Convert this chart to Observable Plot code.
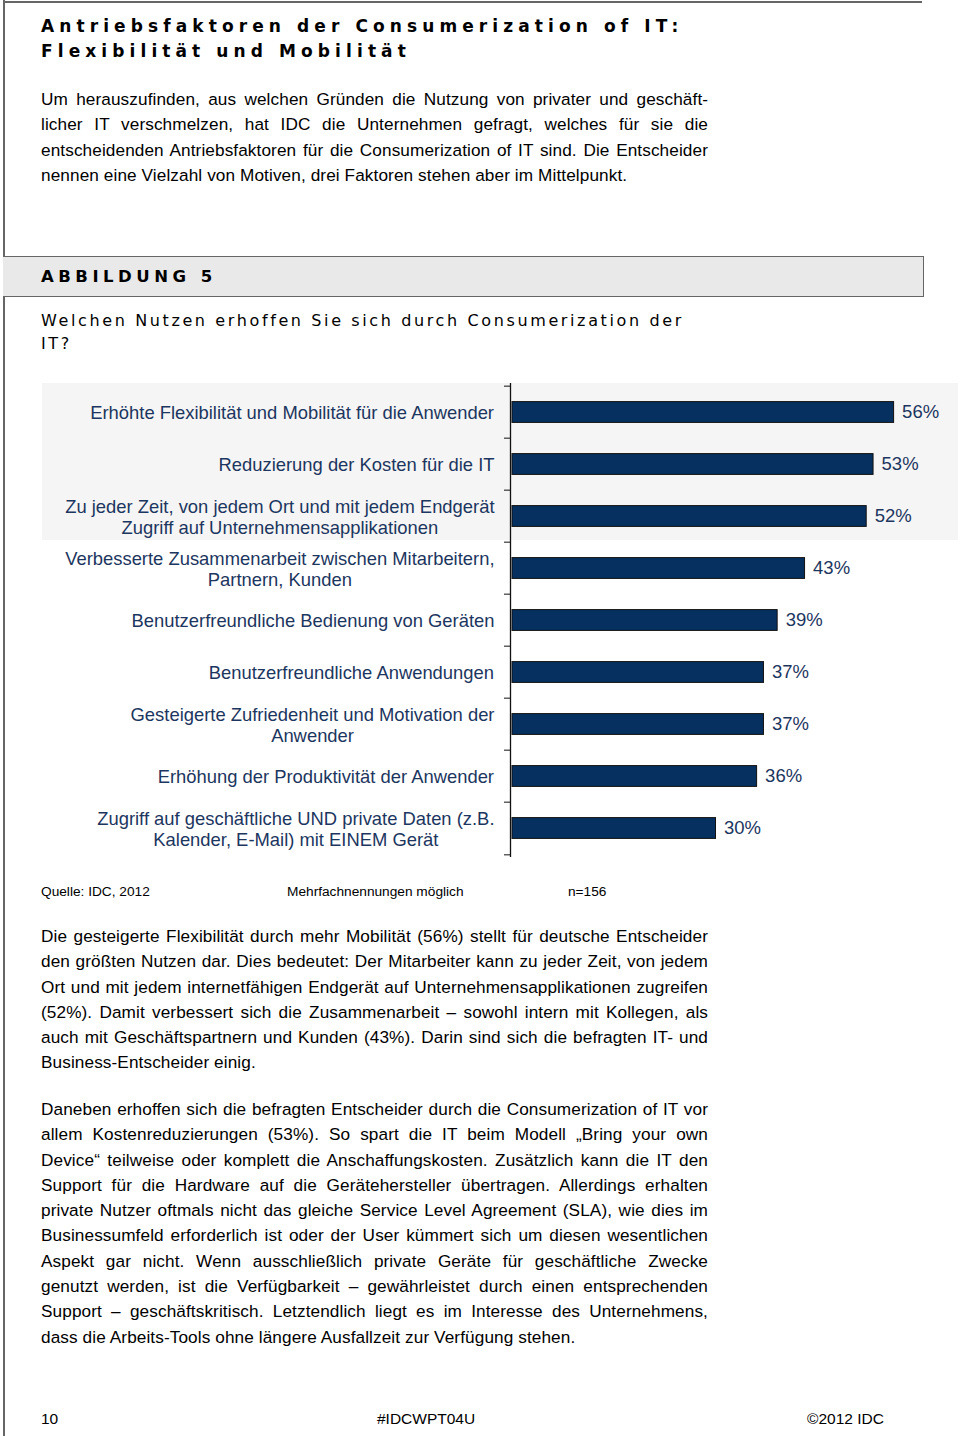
<!DOCTYPE html>
<html lang="de">
<head>
<meta charset="utf-8">
<script src="https://cdn.jsdelivr.net/npm/d3@7"></script>
<script src="https://cdn.jsdelivr.net/npm/@observablehq/plot@0.6"></script>
<style>
  html, body { margin: 0; padding: 0; background: #fff; }
  #page { position: relative; width: 960px; height: 1436px; overflow: hidden; font-family: "Liberation Sans", Arial, sans-serif; color: #000; }
  .abs { position: absolute; }
  .title { left: 41px; top: 14px; font-family: "DejaVu Sans", Verdana, sans-serif; font-weight: bold; font-size: 17px; line-height: 25px; letter-spacing: 5.1px; white-space: nowrap; }
  .para { left: 41px; width: 667px; font-size: 17.2px; line-height: 25.3px; letter-spacing: 0.1px; text-align: justify; hyphens: manual; }
  .fig { left: 3px; top: 256px; width: 920px; height: 39px; background: #e9e9e9; border: 1.5px solid #666; border-left: none; box-sizing: content-box; }
  .figlabel { left: 41px; top: 265px; font-family: "DejaVu Sans", Verdana, sans-serif; font-weight: bold; font-size: 16.5px; line-height: 24px; letter-spacing: 4.5px; }
  .sub { left: 41px; top: 309px; font-family: "DejaVu Sans", Verdana, sans-serif; font-size: 16px; line-height: 23px; letter-spacing: 2.62px; white-space: nowrap; }
  .hl { left: 42px; top: 383px; width: 916px; height: 157px; background: #f5f5f5; }
  #chart { left: 42px; top: 380px; }
  .note { top: 884px; font-size: 13.7px; line-height: 16px; }
  .foot { top: 1410px; font-size: 15.5px; line-height: 18px; }
</style>
</head>
<body>
<div id="page">
  <div class="abs" style="left:3px;top:0;width:1.5px;height:1436px;background:#666"></div>
  <div class="abs" style="left:3px;top:1px;width:919px;height:1.5px;background:#666"></div>

  <div class="abs title">Antriebsfaktoren der Consumerization of IT:<br>Flexibilität und Mobilität</div>

  <div class="abs para" style="top:87px">Um herauszufinden, aus welchen Gründen die Nutzung von privater und geschäft&shy;licher IT verschmelzen, hat IDC die Unternehmen gefragt, welches für sie die entscheidenden Antriebsfaktoren für die Consumerization of IT sind. Die Entscheider nennen eine Vielzahl von Motiven, drei Faktoren stehen aber im Mittelpunkt.</div>

  <div class="abs fig"></div>
  <div class="abs figlabel">ABBILDUNG 5</div>
  <div class="abs sub">Welchen Nutzen erhoffen Sie sich durch Consumerization der<br>IT?</div>

  <div class="abs hl"></div>
  <div class="abs" id="chart"></div>

  <div class="abs note" style="left:41px">Quelle: IDC, 2012</div>
  <div class="abs note" style="left:287px">Mehrfachnennungen möglich</div>
  <div class="abs note" style="left:568px">n=156</div>

  <div class="abs para" style="top:924px">Die gesteigerte Flexibilität durch mehr Mobilität (56%) stellt für deutsche Entscheider den größten Nutzen dar. Dies bedeutet: Der Mitarbeiter kann zu jeder Zeit, von jedem Ort und mit jedem internetfähigen Endgerät auf Unternehmensapplikationen zugreifen (52%). Damit verbessert sich die Zusammenarbeit – sowohl intern mit Kollegen, als auch mit Geschäftspartnern und Kunden (43%). Darin sind sich die befragten IT- und Business-Entscheider einig.</div>

  <div class="abs para" style="top:1097px">Daneben erhoffen sich die befragten Entscheider durch die Consumerization of IT vor allem Kostenreduzierungen (53%). So spart die IT beim Modell „Bring your own Device“ teilweise oder komplett die Anschaffungskosten. Zusätzlich kann die IT den Support für die Hardware auf die Gerätehersteller übertragen. Allerdings erhalten private Nutzer oftmals nicht das gleiche Service Level Agreement (SLA), wie dies im Businessumfeld erforderlich ist oder der User kümmert sich um diesen wesentlichen Aspekt gar nicht. Wenn ausschließlich private Geräte für geschäftliche Zwecke genutzt werden, ist die Verfügbarkeit – gewährleistet durch einen entsprechenden Support – geschäftskritisch. Letztendlich liegt es im Interesse des Unternehmens, dass die Arbeits-Tools ohne längere Ausfallzeit zur Verfügung stehen.</div>

  <div class="abs foot" style="left:41px">10</div>
  <div class="abs foot" style="left:377px">#IDCWPT04U</div>
  <div class="abs foot" style="left:807px">©2012 IDC</div>
</div>

<script>
// ---- Data ----
const categories = [
  "Erhöhte Flexibilität und Mobilität für die Anwender",
  "Reduzierung der Kosten für die IT",
  "Zu jeder Zeit, von jedem Ort und mit jedem Endgerät\nZugriff auf Unternehmensapplikationen",
  "Verbesserte Zusammenarbeit zwischen Mitarbeitern,\nPartnern, Kunden",
  "Benutzerfreundliche Bedienung von Geräten",
  "Benutzerfreundliche Anwendungen",
  "Gesteigerte Zufriedenheit und Motivation der\nAnwender",
  "Erhöhung der Produktivität der Anwender",
  "Zugriff auf geschäftliche UND private Daten (z.B.\nKalender, E-Mail) mit EINEM Gerät"
];
const values = [56, 53, 52, 43, 39, 37, 37, 36, 30];
const xDomain = [0, 60];

const data = categories.map((c, i) => ({label: c, value: values[i]}));

// ---- Layout ----
const W = 916, H = 480, mT = 3, mB = 3, mL = 468, mR = 37;
const bw = (H - mT - mB) / categories.length;
const labelSize = 18.4;
const labelFont = labelSize + "px 'Liberation Sans', Arial, sans-serif";
const labelColor = "#1c3660";
const barColor = "#05305f";

const ctx = document.createElement("canvas").getContext("2d");
ctx.font = labelFont;
const maxLineWidth = s => Math.max(...s.split("\n").map(l => ctx.measureText(l).width));

const labelMarks = categories.map(c => Plot.text([c], {
  y: d => d,
  text: d => d,
  frameAnchor: "left",
  textAnchor: "middle",
  dx: -(16 + maxLineWidth(c) / 2),
  lineHeight: 21 / labelSize,
  fontSize: labelSize,
  fill: labelColor
}));

const chart = Plot.plot({
  width: W, height: H,
  marginTop: mT, marginBottom: mB, marginLeft: mL, marginRight: mR,
  style: {fontFamily: "'Liberation Sans', Arial, sans-serif", background: "transparent", overflow: "visible"},
  x: {domain: xDomain, axis: null},
  y: {type: "band", domain: categories, padding: 0, axis: null},
  marks: [
    Plot.barX(data, {
      x: "value", y: "label",
      fill: barColor, stroke: "#111", strokeWidth: 1,
      insetLeft: 2, insetTop: 15.6, insetBottom: 15.6
    }),
    Plot.ruleX([0], {stroke: "#111", strokeWidth: 1.3}),
    Plot.axisY(categories, {anchor: "left", tickSize: 6, tickFormat: () => "", label: null, dy: -bw / 2, stroke: "#111"}),
    Plot.axisY([categories[categories.length - 1]], {anchor: "left", tickSize: 6, tickFormat: () => "", label: null, dy: bw / 2, stroke: "#111"}),
    ...labelMarks,
    Plot.text(data, {
      x: "value", y: "label",
      text: d => d.value + "%",
      textAnchor: "start", dx: 8,
      fontSize: 18.5, fill: labelColor
    })
  ]
});
document.getElementById("chart").appendChild(chart);
</script>
</body>
</html>
